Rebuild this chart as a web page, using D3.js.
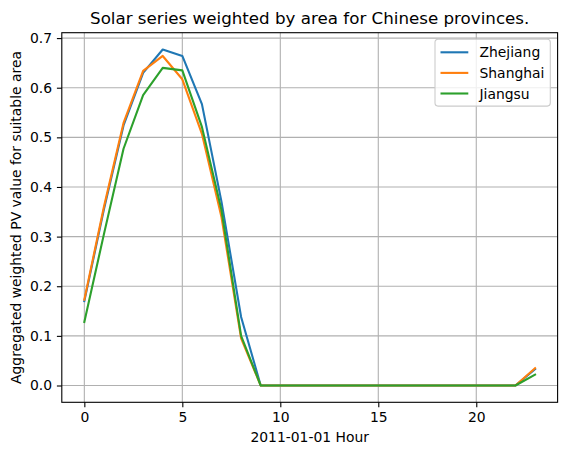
<!DOCTYPE html>
<html>
<head>
<meta charset="utf-8">
<script src="https://cdn.jsdelivr.net/npm/d3@7"></script>
<style>
  body { margin: 0; background: #fff; }
  text { font-family: "DejaVu Sans", sans-serif; }
</style>
</head>
<body>
<div id="chart"></div>
<script>
// hourly values
var hours = d3.range(0, 24);
var zhejiang = [0.170, 0.355, 0.524, 0.630, 0.677, 0.664, 0.567, 0.370, 0.138, 0, 0, 0, 0, 0, 0, 0, 0, 0, 0, 0, 0, 0, 0, 0.033];
var shanghai = [0.173, 0.360, 0.529, 0.634, 0.664, 0.617, 0.507, 0.339, 0.095, 0, 0, 0, 0, 0, 0, 0, 0, 0, 0, 0, 0, 0, 0, 0.035];
var jiangsu  = [0.128, 0.305, 0.477, 0.585, 0.640, 0.635, 0.521, 0.353, 0.100, 0, 0, 0, 0, 0, 0, 0, 0, 0, 0, 0, 0, 0, 0, 0.022];
var seriesNames = ["Zhejiang", "Shanghai", "Jiangsu"];
var xTicks = [0, 5, 10, 15, 20];
var yTicks = [0.0, 0.1, 0.2, 0.3, 0.4, 0.5, 0.6, 0.7];

var series = [
  { name: seriesNames[0], values: zhejiang, color: "#1f77b4" },
  { name: seriesNames[1], values: shanghai, color: "#ff7f0e" },
  { name: seriesNames[2], values: jiangsu,  color: "#2ca02c" }
];

var svgWidth = 567;
var svgHeight = 455;
var margin = { top: 32.7, right: 9.4, bottom: 52.7, left: 61.8 };
var width = svgWidth - margin.left - margin.right;
var height = svgHeight - margin.top - margin.bottom;

var svg = d3.select("#chart").append("svg")
  .attr("width", svgWidth)
  .attr("height", svgHeight);

var chartGroup = svg.append("g")
  .attr("transform", `translate(${margin.left}, ${margin.top})`);

// matplotlib style 5% margins
var xMin = d3.min(hours), xMax = d3.max(hours);
var xPad = (xMax - xMin) * 0.05;
var allVals = zhejiang.concat(shanghai, jiangsu);
var yMin = d3.min(allVals), yMax = d3.max(allVals);
var yPad = (yMax - yMin) * 0.05;

var xScale = d3.scaleLinear().domain([xMin - xPad, xMax + xPad]).range([0, width]);
var yScale = d3.scaleLinear().domain([yMin - yPad, yMax + yPad]).range([height, 0]);

// grid
chartGroup.append("g").selectAll("line")
  .data(xTicks).enter().append("line")
  .attr("x1", d => xScale(d)).attr("x2", d => xScale(d))
  .attr("y1", 0).attr("y2", height)
  .attr("stroke", "#b0b0b0").attr("stroke-width", 1.1);

chartGroup.append("g").selectAll("line")
  .data(yTicks).enter().append("line")
  .attr("y1", d => yScale(d)).attr("y2", d => yScale(d))
  .attr("x1", 0).attr("x2", width)
  .attr("stroke", "#b0b0b0").attr("stroke-width", 1.1);

// lines
var line = d3.line()
  .x((d, i) => xScale(hours[i]))
  .y(d => yScale(d));

series.forEach(function(s) {
  chartGroup.append("path")
    .datum(s.values)
    .attr("fill", "none")
    .attr("stroke", s.color)
    .attr("stroke-width", 2.1)
    .attr("stroke-linejoin", "round")
    .attr("stroke-linecap", "square")
    .attr("d", line);
});

// axes
var xAxis = d3.axisBottom(xScale).tickValues(xTicks).tickSize(4.9).tickPadding(4.9).tickFormat(d3.format("d"));
var yAxis = d3.axisLeft(yScale).tickValues(yTicks).tickSize(4.9).tickPadding(4.9).tickFormat(d3.format(".1f"));

var gx = chartGroup.append("g")
  .attr("transform", `translate(0, ${height})`)
  .call(xAxis);
var gy = chartGroup.append("g").call(yAxis);

[gx, gy].forEach(function(g) {
  g.select(".domain").remove();
  g.selectAll(".tick line").attr("stroke", "#000").attr("stroke-width", 1.1);
  g.selectAll(".tick text").attr("font-size", 13.9).attr("fill", "#000")
    .style("font-family", "DejaVu Sans, sans-serif");
});

// frame
chartGroup.append("rect")
  .attr("x", 0).attr("y", 0)
  .attr("width", width).attr("height", height)
  .attr("fill", "none")
  .attr("stroke", "#000")
  .attr("stroke-width", 1.1);

// title
chartGroup.append("text")
  .attr("x", width / 2)
  .attr("y", -9)
  .attr("text-anchor", "middle")
  .attr("font-size", 16.7)
  .text("Solar series weighted by area for Chinese provinces.");

// axis labels
chartGroup.append("text")
  .attr("transform", "rotate(-90)")
  .attr("x", -height / 2)
  .attr("y", -40.5)
  .attr("text-anchor", "middle")
  .attr("font-size", 13.9)
  .text("Aggregated weighted PV value for suitable area");

chartGroup.append("text")
  .attr("x", width / 2)
  .attr("y", height + 40)
  .attr("text-anchor", "middle")
  .attr("font-size", 13.9)
  .text("2011-01-01 Hour");

// legend
var legend = chartGroup.append("g")
  .attr("transform", `translate(${width - 122.6}, 6.6)`);

legend.append("rect")
  .attr("width", 115.3).attr("height", 66.8)
  .attr("rx", 3).attr("ry", 3)
  .attr("fill", "#fff").attr("fill-opacity", 0.8)
  .attr("stroke", "#cccccc").attr("stroke-width", 1.1);

var items = legend.selectAll("g.item")
  .data(series).enter().append("g")
  .attr("transform", (d, i) => `translate(0, ${13 + i * 20.6})`);

items.append("line")
  .attr("x1", 5.5).attr("x2", 33.3)
  .attr("stroke", d => d.color)
  .attr("stroke-width", 2.1);

items.append("text")
  .attr("x", 44.5).attr("y", 5)
  .attr("font-size", 13.9)
  .text(d => d.name);
</script>
</body>
</html>
